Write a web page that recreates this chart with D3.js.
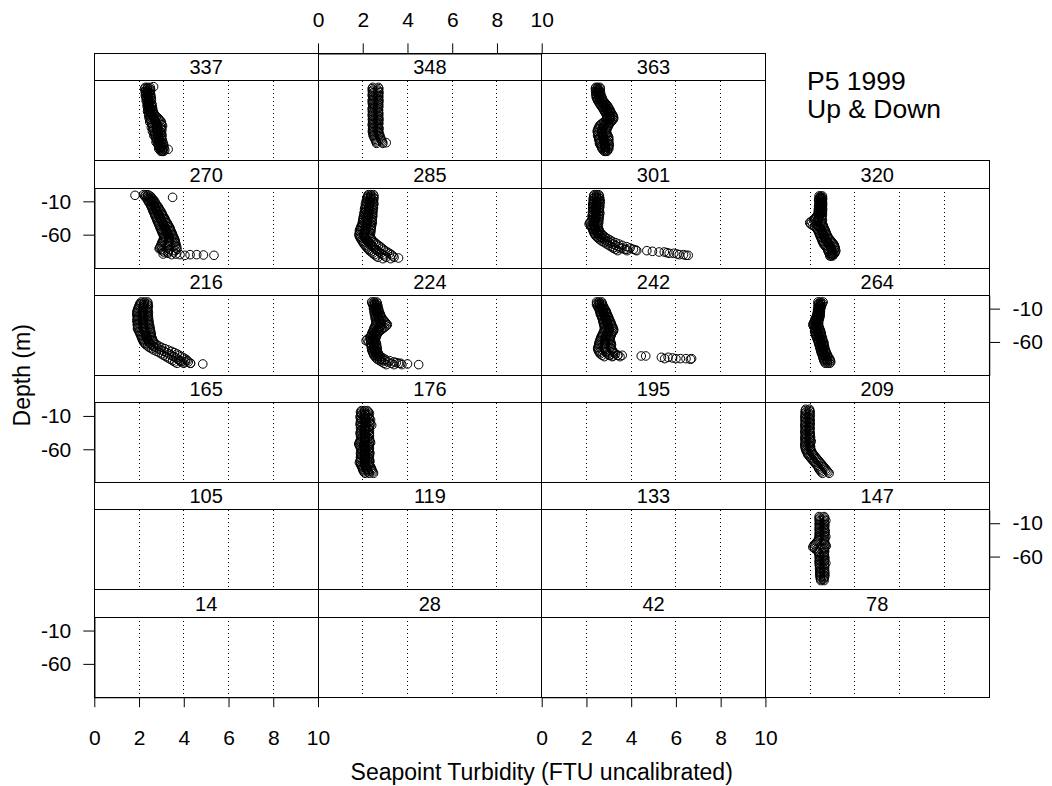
<!DOCTYPE html>
<html>
<head>
<meta charset="utf-8">
<script src="https://cdn.jsdelivr.net/npm/d3@7"></script>
<style>
  body { margin: 0; background: #fff; }
  svg { display: block; }
  text { font-family: "Liberation Sans", Arial, Helvetica, sans-serif; fill: #000; }
</style>
</head>
<body>
<svg id="chart" width="1052" height="786"></svg>
<script>
// Stations, filled left-to-right from the bottom row upward
const stations = ["14","28","42","78","105","119","133","147","165","176","195","209",
                  "216","224","242","264","270","285","301","320","337","348","363"];
// Depth levels (m) shared by the cast arrays below
const depthLevels = [0,-2,-4,-6,-8,-10,-12,-14,-16,-18,-20,-22,-24,-26,-28,-30,-32,-34,-36,
  -38,-40,-42,-44,-46,-48,-50,-52,-54,-56,-58,-60,-62,-64,-66,-68,-70,-72,-74,-76,
  -78,-80,-82,-84,-86,-88,-90,-92,-94,-96];
const xTickValues = [0,2,4,6,8,10];
const yTickValues = [-10,-60];
const gridValues = [2,4,6,8];
const titleLines = ["P5 1999", "Up & Down"];

// Seapoint turbidity (FTU) per station: down cast, a second pass, up cast, loose points
const down337 = [2.28, 2.25,2.3,2.27,2.3,2.32,2.28,2.3,2.33, 2.35,2.32,2.36,2.4,2.38,2.36,2.4,2.42,2.4,2.38,
  2.42,2.45,2.43,2.48,2.45,2.5,2.52,2.48,2.55,2.58, 2.6,2.55,2.62,2.65,2.6,2.68,2.7,2.66,2.72,2.75,
  2.78,2.8,2.76,2.82,2.85,2.88,2.9,2.88,2.95,2.98];
const mid337 = [2.38, 2.36,2.4,2.38,2.37,2.4,2.42,2.39,2.42, 2.43,2.42,2.44,2.46,2.45,2.44,2.48,2.47,2.5,2.48,
  2.52,2.55,2.58,2.62,2.65,2.7,2.72,2.75,2.78,2.8, 2.82,2.78,2.8,2.84,2.8,2.85,2.83,2.86,2.87,2.86,
  2.9,2.92,2.88,2.95,2.97,2.96,3.0,2.98,3.05,3.04];
const up337 = [2.5, 2.48,2.52,2.5,2.47,2.5,2.53,2.5,2.55, 2.52,2.55,2.5,2.56,2.58,2.55,2.6,2.57,2.62,2.6,
  2.65,2.68,2.72,2.78,2.85,2.9,2.95,3.0,2.98,3.02, 3.05,3.0,2.98,3.02,2.95,3.0,2.97,3.03,3.0,2.98,
  3.02,3.05,3.0,3.08,3.1,3.05,3.12,3.1,3.15,3.1];
const extra337 = [[2.65,1],[3.3,-93]];

const down348 = [2.45, 2.42,2.45,2.43,2.46,2.44,2.42,2.45,2.47, 2.44,2.42,2.46,2.43,2.45,2.47,2.44,2.42,2.45,2.43,
  2.46,2.44,2.42,2.45,2.47,2.43,2.45,2.44,2.46,2.42, 2.45,2.47,2.44,2.46,2.43,2.45,2.48,2.46,2.5,2.52,
  2.55,2.58,2.6,2.62];
const up348 = [2.7, 2.72,2.68,2.7,2.73,2.69,2.7,2.72,2.68, 2.7,2.73,2.69,2.71,2.68,2.72,2.7,2.67,2.71,2.69,
  2.7,2.72,2.68,2.71,2.69,2.73,2.7,2.68,2.72,2.7, 2.69,2.71,2.73,2.7,2.68,2.72,2.75,2.73,2.78,2.8,
  2.82,2.85,2.88,2.9];
const extra348 = [[3.05,-83]];

const down363 = [2.42, 2.4,2.43,2.41,2.44,2.42,2.45,2.43,2.46, 2.48,2.5,2.55,2.58,2.62,2.66,2.7,2.74,2.78,2.8,
  2.85,2.88,2.9,2.92,2.93,2.9,2.85,2.78,2.7,2.62, 2.58,2.55,2.52,2.5,2.48,2.5,2.52,2.5,2.53,2.55,
  2.55,2.58,2.6,2.58,2.62,2.65,2.68,2.7,2.75,2.8];
const mid363 = [2.5, 2.5,2.52,2.5,2.53,2.52,2.55,2.56,2.58, 2.6,2.62,2.67,2.72,2.76,2.8,2.84,2.88,2.92,2.94,
  2.98,3.02,3.05,3.06,3.08,3.05,3.0,2.95,2.88,2.8, 2.78,2.75,2.72,2.7,2.68,2.7,2.72,2.72,2.75,2.77,
  2.77,2.8,2.78,2.8,2.82,2.83,2.83,2.85,2.85,2.86];
const up363 = [2.6, 2.62,2.58,2.6,2.63,2.6,2.65,2.68,2.7, 2.72,2.75,2.8,2.85,2.9,2.95,2.98,3.02,3.05,3.08,
  3.1,3.15,3.18,3.2,3.22,3.2,3.15,3.1,3.05,3.0, 2.98,2.95,2.92,2.9,2.88,2.9,2.92,2.95,2.98,3.0,
  2.98,3.0,2.97,3.0,3.02,3.0,2.98,3.0,2.95,2.92];
const extra363 = [];

const down270 = [2.2, 2.25,2.3,2.35,2.38,2.42,2.45,2.5,2.52, 2.55,2.58,2.6,2.62,2.65,2.68,2.7,2.72,2.75,2.78,
  2.8,2.82,2.85,2.88,2.9,2.92,2.95,2.98,3.0,3.02, 3.05,3.08,3.1,3.12,3.1,3.08,3.05,3.02,3.0,2.98,
  2.95,2.92,3.0,3.05,3.1];
const mid270 = [2.3, 2.38,2.42,2.48,2.52,2.56,2.58,2.63,2.66, 2.7,2.73,2.76,2.78,2.82,2.85,2.88,2.9,2.94,2.96,
  3.0,3.02,3.05,3.08,3.1,3.14,3.16,3.2,3.22,3.24, 3.26,3.3,3.32,3.34,3.35,3.35,3.34,3.32,3.33,3.3,
  3.3,3.25,3.35,3.32,3.3];
const up270 = [2.4, 2.5,2.55,2.6,2.65,2.7,2.72,2.76,2.8, 2.85,2.88,2.92,2.95,3.0,3.02,3.05,3.08,3.12,3.15,
  3.18,3.2,3.25,3.28,3.3,3.35,3.38,3.4,3.42,3.45, 3.48,3.5,3.52,3.55,3.58,3.6,3.62,3.6,3.65,3.62,
  3.68,3.65,3.7,3.62,3.55];
const extra270 = [[1.82,-1],[3.5,-4],[2.9,-81],[3.08,-89],[3.3,-88],[3.46,-90],[3.65,-89],[3.83,-90],
  [4.05,-91],[4.28,-90],[4.58,-90],[4.88,-90.5],[5.35,-91]];

const down285 = [2.25, 2.22,2.2,2.18,2.2,2.15,2.18,2.12,2.15, 2.12,2.1,2.08,2.12,2.1,2.05,2.08,2.05,2.02,2.05,
  2.0,2.02,1.98,2.0,1.95,1.92,1.9,1.88,1.85,1.87, 1.85,1.83,1.85,1.88,1.9,1.95,1.98,2.02,2.05,2.1,
  2.15,2.2,2.25,2.3,2.38,2.45,2.52,2.6,2.68];
const mid285 = [2.36, 2.36,2.34,2.35,2.32,2.3,2.32,2.3,2.31, 2.28,2.29,2.26,2.28,2.26,2.25,2.24,2.25,2.22,2.22,
  2.2,2.21,2.2,2.18,2.17,2.14,2.13,2.12,2.1,2.1, 2.08,2.05,2.07,2.1,2.14,2.18,2.22,2.28,2.34,2.4,
  2.45,2.52,2.58,2.65,2.74,2.82,2.9,2.98,3.05];
const up285 = [2.48, 2.5,2.47,2.5,2.45,2.48,2.46,2.5,2.47, 2.45,2.48,2.44,2.46,2.43,2.45,2.42,2.45,2.43,2.4,
  2.42,2.4,2.43,2.38,2.4,2.36,2.38,2.35,2.37,2.33, 2.35,2.3,2.32,2.35,2.38,2.42,2.48,2.55,2.62,2.7,
  2.78,2.85,2.92,3.0,3.1,3.2,3.28,3.35,3.4];
const extra285 = [[3.6,-95],[3.25,-96],[2.9,-96]];

const down301 = [2.35, 2.32,2.35,2.3,2.33,2.3,2.32,2.28,2.3, 2.3,2.28,2.32,2.3,2.27,2.3,2.28,2.25,2.28,2.3,
  2.25,2.2,2.15,2.12,2.18,2.22,2.25,2.28,2.3,2.32, 2.35,2.38,2.42,2.48,2.55,2.62,2.7,2.8,2.9,3.0,
  3.1,3.2,3.3,3.4];
const mid301 = [2.45, 2.45,2.44,2.46,2.45,2.46,2.45,2.44,2.43, 2.45,2.42,2.43,2.44,2.41,2.45,2.42,2.41,2.4,2.43,
  2.4,2.36,2.33,2.3,2.34,2.36,2.38,2.4,2.44,2.46, 2.5,2.54,2.6,2.66,2.75,2.84,2.92,3.05,3.18,3.3,
  3.45,3.58,3.7,3.82];
const up301 = [2.55, 2.58,2.55,2.6,2.57,2.62,2.58,2.6,2.56, 2.6,2.57,2.55,2.58,2.56,2.6,2.55,2.58,2.54,2.56,
  2.55,2.52,2.55,2.5,2.53,2.5,2.52,2.55,2.58,2.6, 2.65,2.7,2.78,2.85,2.95,3.05,3.15,3.3,3.45,3.6,
  3.8,3.95,4.1,4.25];
const extra301 = [[3.2,-80],[3.5,-81],[3.8,-82],[4.2,-83],[4.7,-84],[4.95,-85],[5.25,-86],[5.48,-86],
  [5.6,-87],[5.7,-88],[5.9,-88],[6.05,-89],[6.15,-90],[6.34,-90],[6.45,-91],[6.55,-91]];

const down320 = [null, 2.4,2.42,2.4,2.38,2.4,2.42,2.39,2.41, 2.38,2.4,2.37,2.39,2.36,2.38,2.35,2.3,2.25,2.2,
  2.15,2.05,1.98,2.02,2.1,2.2,2.28,2.32,2.35,2.38, 2.4,2.42,2.45,2.48,2.5,2.52,2.55,2.58,2.6,2.65,
  2.7,2.75,2.78,2.8,2.82,2.85,2.9,2.88];
const mid320 = [null, 2.47,2.48,2.48,2.46,2.47,2.47,2.48,2.47, 2.46,2.47,2.46,2.47,2.45,2.45,2.45,2.42,2.38,2.36,
  2.35,2.28,2.24,2.28,2.34,2.4,2.45,2.48,2.52,2.54, 2.56,2.58,2.62,2.64,2.68,2.71,2.75,2.79,2.82,2.86,
  2.9,2.93,2.94,2.97,2.97,2.98,2.97,2.94];
const up320 = [null, 2.55,2.53,2.56,2.54,2.55,2.52,2.56,2.54, 2.55,2.53,2.56,2.54,2.55,2.52,2.55,2.53,2.5,2.52,
  2.55,2.52,2.5,2.55,2.58,2.6,2.62,2.65,2.68,2.7, 2.72,2.75,2.78,2.8,2.85,2.9,2.95,3.0,3.05,3.08,
  3.1,3.12,3.1,3.15,3.12,3.1,3.05,3.0];
const extra320 = [];

const down216 = [2.1, 2.05,2.02,2.0,1.98,1.95,1.93,1.92,1.9, 1.92,1.9,1.93,1.95,1.92,1.9,1.93,1.95,1.92,1.94,
  1.95,1.93,1.97,2.0,2.02,2.05,2.08,2.1,2.12,2.15, 2.18,2.2,2.25,2.3,2.38,2.45,2.55,2.65,2.78,2.9,
  3.0,3.1,3.2,3.3,3.4,3.5,3.6,3.7];
const mid216 = [2.24, 2.22,2.2,2.21,2.19,2.16,2.17,2.15,2.16, 2.16,2.14,2.17,2.18,2.17,2.15,2.19,2.18,2.19,2.21,
  2.2,2.22,2.23,2.26,2.26,2.3,2.3,2.33,2.35,2.38, 2.4,2.43,2.48,2.54,2.63,2.72,2.85,2.98,3.12,3.24,
  3.35,3.45,3.55,3.65,3.75,3.82,3.9,4.0];
const up216 = [2.38, 2.4,2.38,2.42,2.4,2.37,2.4,2.38,2.42, 2.4,2.38,2.42,2.4,2.43,2.4,2.45,2.42,2.45,2.48,
  2.45,2.5,2.48,2.52,2.5,2.55,2.52,2.55,2.58,2.6, 2.62,2.65,2.7,2.78,2.88,3.0,3.15,3.3,3.45,3.58,
  3.7,3.8,3.9,4.0,4.1,4.15,4.2,4.3];
const extra216 = [[3.85,-89],[4.06,-90],[4.3,-92],[4.85,-93]];

const down224 = [2.4, 2.42,2.45,2.48,2.5,2.48,2.52,2.5,2.55, 2.52,2.55,2.58,2.55,2.6,2.58,2.62,2.6,2.58,2.55,
  2.52,2.5,2.48,2.45,2.42,2.4,2.38,2.35,2.3,2.2, 2.15,2.25,2.35,2.38,2.4,2.38,2.42,2.4,2.43,2.45,
  2.48,2.5,2.55,2.6,2.65,2.75,2.85,2.95,3.05];
const mid224 = [2.51, 2.54,2.53,2.58,2.57,2.59,2.62,2.6,2.65, 2.65,2.68,2.7,2.7,2.75,2.76,2.81,2.82,2.84,2.8,
  2.75,2.7,2.65,2.6,2.56,2.52,2.5,2.48,2.44,2.38, 2.35,2.42,2.48,2.5,2.5,2.5,2.54,2.51,2.54,2.57,
  2.59,2.62,2.68,2.75,2.82,2.98,3.12,3.28,3.4];
const up224 = [2.62, 2.65,2.62,2.68,2.65,2.7,2.72,2.7,2.75, 2.78,2.8,2.82,2.85,2.9,2.95,3.0,3.05,3.1,3.05,
  2.98,2.9,2.82,2.75,2.7,2.65,2.62,2.6,2.58,2.55, 2.55,2.58,2.6,2.62,2.6,2.63,2.65,2.62,2.65,2.68,
  2.7,2.75,2.8,2.9,3.0,3.2,3.4,3.6,3.75];
const extra224 = [[3.5,-91],[3.7,-92],[4.0,-93],[4.5,-94]];

const down242 = [2.45, 2.47,2.45,2.5,2.52,2.55,2.58,2.6,2.62, 2.62,2.65,2.68,2.7,2.72,2.74,2.75,2.76,2.78,2.8,
  2.8,2.82,2.8,2.78,2.75,2.72,2.7,2.66,2.64,2.62, 2.6,2.58,2.56,2.55,2.54,2.52,2.5,2.52,2.55,2.58,
  2.62,2.7,2.8];
const mid242 = [2.56, 2.58,2.58,2.62,2.65,2.68,2.72,2.74,2.76, 2.77,2.8,2.83,2.85,2.87,2.9,2.92,2.93,2.95,2.98,
  2.99,3.01,3.01,2.99,2.95,2.92,2.9,2.87,2.85,2.84, 2.82,2.83,2.83,2.84,2.82,2.8,2.81,2.84,2.87,2.89,
  2.96,3.05,3.15];
const up242 = [2.68, 2.7,2.72,2.75,2.78,2.8,2.85,2.88,2.9, 2.92,2.95,2.98,3.0,3.02,3.05,3.08,3.1,3.12,3.15,
  3.18,3.2,3.22,3.2,3.15,3.12,3.1,3.08,3.05,3.05, 3.05,3.08,3.1,3.12,3.1,3.08,3.12,3.15,3.18,3.2,
  3.3,3.4,3.5];
const extra242 = [[3.0,-80],[3.2,-81],[3.4,-80],[3.6,-80],[4.45,-81],[4.65,-81],[5.35,-83],[5.5,-85],
  [5.65,-83],[5.85,-84],[6.0,-85],[6.2,-85],[6.45,-85],[6.7,-85],[6.65,-86]];

const down264 = [2.35, 2.38,2.35,2.38,2.36,2.35,2.33,2.35,2.32, 2.32,2.3,2.28,2.25,2.22,2.2,2.18,2.15,2.12,2.15,
  2.18,2.2,2.22,2.2,2.22,2.25,2.25,2.28,2.3,2.32, 2.35,2.37,2.38,2.4,2.42,2.43,2.45,2.47,2.48,2.5,
  2.52,2.55,2.57,2.58,2.6,2.62,2.65,2.68];
const mid264 = [2.46, 2.46,2.44,2.44,2.42,2.41,2.39,2.4,2.38, 2.38,2.37,2.35,2.33,2.31,2.29,2.27,2.26,2.24,2.26,
  2.29,2.31,2.33,2.33,2.35,2.37,2.38,2.4,2.42,2.44, 2.46,2.48,2.5,2.5,2.52,2.54,2.54,2.57,2.59,2.61,
  2.63,2.66,2.68,2.71,2.74,2.76,2.78,2.78];
const up264 = [2.58, 2.55,2.52,2.5,2.48,2.47,2.45,2.46,2.45, 2.44,2.45,2.43,2.42,2.4,2.38,2.37,2.38,2.36,2.38,
  2.4,2.42,2.45,2.47,2.48,2.5,2.5,2.52,2.55,2.55, 2.57,2.6,2.62,2.6,2.63,2.65,2.62,2.68,2.7,2.72,
  2.75,2.78,2.8,2.85,2.88,2.9,2.92,2.88];
const extra264 = [];

const down176 = [null, 1.95,1.9,1.92,1.95,1.9,1.88,1.92,1.95, 1.9,1.92,1.88,1.9,1.93,1.9,1.95,1.92,1.9,1.88,
  1.92,1.9,1.95,1.93,1.9,1.88,1.85,1.82,1.85,1.88, 1.9,1.92,1.95,1.93,1.9,1.92,1.95,1.9,1.92,1.9,
  1.88,1.85,1.9,1.92,1.95,1.98,2.0,2.02,2.05,2.1];
const mid176 = [null, 2.08,2.07,2.1,2.1,2.06,2.08,2.11,2.15, 2.1,2.1,2.12,2.15,2.12,2.08,2.11,2.11,2.08,2.09,
  2.1,2.1,2.1,2.11,2.09,2.1,2.1,2.06,2.06,2.06, 2.1,2.1,2.1,2.11,2.11,2.1,2.12,2.08,2.1,2.1,
  2.1,2.08,2.09,2.11,2.15,2.18,2.2,2.22,2.25,2.29];
const up176 = [null, 2.2,2.25,2.3,2.25,2.22,2.28,2.3,2.35, 2.3,2.28,2.35,2.4,2.3,2.25,2.28,2.3,2.25,2.3,
  2.28,2.3,2.25,2.3,2.28,2.32,2.35,2.3,2.28,2.25, 2.3,2.28,2.25,2.3,2.32,2.28,2.3,2.25,2.28,2.3,
  2.32,2.3,2.28,2.3,2.35,2.38,2.4,2.42,2.45,2.48];
const extra176 = [];

const down209 = [1.8, 1.78,1.8,1.77,1.8,1.78,1.76,1.8,1.78, 1.77,1.8,1.78,1.76,1.79,1.77,1.8,1.78,1.76,1.78,
  1.8,1.77,1.79,1.76,1.78,1.8,1.77,1.78,1.76,1.78, 1.78,1.8,1.82,1.85,1.88,1.9,1.95,2.0,2.05,2.1,
  2.15,2.2,2.25,2.3,2.35,2.38,2.4,2.45,2.5,2.55];
const up209 = [1.97, 1.98,2.0,1.97,1.99,2.0,1.96,1.98,2.0, 1.97,1.99,2.0,1.98,1.96,2.0,1.98,1.97,1.99,2.0,
  1.98,2.0,2.02,1.98,2.0,2.05,2.0,1.98,2.0,2.02, 2.0,2.02,2.05,2.08,2.1,2.15,2.2,2.25,2.3,2.35,
  2.4,2.45,2.5,2.55,2.6,2.65,2.7,2.75,2.8,2.85];
const extra209 = [];

const down147 = [2.4, 2.42,2.4,2.43,2.41,2.42,2.4,2.43,2.42, 2.4,2.42,2.41,2.43,2.4,2.42,2.41,2.4,2.38,2.35,
  2.3,2.25,2.2,2.15,2.12,2.2,2.28,2.35,2.38,2.4, 2.42,2.4,2.43,2.41,2.42,2.4,2.43,2.41,2.42,2.44,
  2.42,2.45,2.43,2.44,2.45,2.43,2.46,2.45,2.47,2.48];
const up147 = [2.62, 2.65,2.62,2.7,2.64,2.62,2.66,2.63,2.65, 2.62,2.64,2.68,2.63,2.65,2.62,2.7,2.66,2.64,2.62,
  2.65,2.63,2.68,2.72,2.66,2.64,2.62,2.65,2.63,2.62, 2.64,2.62,2.66,2.63,2.65,2.62,2.7,2.64,2.63,2.65,
  2.62,2.64,2.65,2.63,2.66,2.64,2.65,2.62,2.6,2.62];
const extra147 = [];

// Lookup table: station -> casts on the depth levels, plus loose [turbidity, depth] points
const casts = {
  "337": [[down337, mid337, up337], extra337], "348": [[down348, up348], extra348],
  "363": [[down363, mid363, up363], extra363], "270": [[down270, mid270, up270], extra270],
  "285": [[down285, mid285, up285], extra285], "301": [[down301, mid301, up301], extra301],
  "320": [[down320, mid320, up320], extra320], "216": [[down216, mid216, up216], extra216],
  "224": [[down224, mid224, up224], extra224], "242": [[down242, mid242, up242], extra242],
  "264": [[down264, mid264, up264], extra264], "176": [[down176, mid176, up176], extra176],
  "209": [[down209, up209], extra209], "147": [[down147, up147], extra147]
};

// ---- layout ----
const left0 = 94.3, panelW = 223.7;
const top0 = 53.4, rowPitch = 107.3, stripH = 27.3, panelH = 80;
const nCols = 4, nRows = 6;
const tickFont = 21, stripFont = 20;

const svg = d3.select("#chart");
const x = d3.scaleLinear().domain([0, 10]).range([0, panelW]);
const y = d3.scaleLinear().domain([-110, 10]).range([panelH, 0]);
const fmt = d => String(d);   // plain hyphen for negatives

function cellPos(i) {
  const col = i % nCols;
  const rowTop = nRows - 1 - Math.floor(i / nCols);
  return { col, row: rowTop, x0: left0 + col * panelW, y0: top0 + rowTop * rowPitch };
}

svg.append("defs").append("clipPath").attr("id", "panelClip")
  .append("rect").attr("x", 0).attr("y", 0).attr("width", panelW).attr("height", panelH);

stations.forEach((st, i) => {
  const p = cellPos(i);
  const g = svg.append("g").attr("transform", `translate(${p.x0},${p.y0})`);

  // strip
  g.append("rect").attr("x", 0).attr("y", 0).attr("width", panelW).attr("height", stripH)
    .attr("fill", "#fff").attr("stroke", "#000").attr("stroke-width", 1)
    .attr("shape-rendering", "crispEdges");
  g.append("text").attr("x", panelW / 2).attr("y", stripH / 2).attr("dy", "0.36em")
    .attr("text-anchor", "middle").style("font-size", stripFont + "px").text(st);

  const pg = g.append("g").attr("transform", `translate(0,${stripH})`);
  pg.append("rect").attr("width", panelW).attr("height", panelH)
    .attr("fill", "#fff").attr("stroke", "#000").attr("stroke-width", 1)
    .attr("shape-rendering", "crispEdges");

  // dotted reference lines
  pg.selectAll("line.grid").data(gridValues).join("line")
    .attr("class", "grid")
    .attr("x1", d => x(d)).attr("x2", d => x(d))
    .attr("y1", 0).attr("y2", panelH)
    .attr("stroke", "#000").attr("stroke-width", 1).attr("stroke-dasharray", "1.2,2.8")
    .attr("shape-rendering", "crispEdges");

  // profile points
  const c = casts[st];
  if (c) {
    const pts = [];
    c[0].forEach(arr => arr.forEach((v, k) => { if (v != null) pts.push([v, depthLevels[k]]); }));
    c[1].forEach(d => pts.push(d));
    pg.append("g").attr("clip-path", "url(#panelClip)")
      .selectAll("circle").data(pts).join("circle")
      .attr("cx", d => x(d[0])).attr("cy", d => y(d[1])).attr("r", 4.3)
      .attr("fill", "none").attr("stroke", "#000").attr("stroke-width", 1);
  }

  // axes on alternating sides
  const rowFromBottom = Math.floor(i / nCols);
  if (p.col === 0 && rowFromBottom % 2 === 0) {
    pg.append("g").call(d3.axisLeft(y).tickValues(yTickValues).tickFormat(fmt)
      .tickSize(11).tickSizeOuter(0).tickPadding(12)).call(styleAxis);
  }
  if (p.col === nCols - 1 && rowFromBottom % 2 === 1) {
    pg.append("g").attr("transform", `translate(${panelW},0)`)
      .call(d3.axisRight(y).tickValues(yTickValues).tickFormat(fmt)
        .tickSize(11).tickSizeOuter(0).tickPadding(12.5)).call(styleAxis);
  }
  if (rowFromBottom === 0 && p.col % 2 === 0) {
    pg.append("g").attr("transform", `translate(0,${panelH})`)
      .call(d3.axisBottom(x).tickValues(xTickValues).tickFormat(fmt)
        .tickSize(10).tickSizeOuter(0).tickPadding(23)).call(styleAxis);
  }
});

// top axis above the second column of the top row
{
  const p = cellPos(stations.indexOf("348"));
  svg.append("g").attr("transform", `translate(${p.x0},${p.y0})`)
    .call(d3.axisTop(x).tickValues(xTickValues).tickFormat(fmt)
      .tickSize(10).tickSizeOuter(0).tickPadding(16.5)).call(styleAxis);
}

function styleAxis(sel) {
  sel.select(".domain").attr("stroke", "#000").attr("stroke-width", 1.3);
  sel.selectAll(".tick line").attr("stroke", "#000").attr("stroke-width", 1);
  sel.selectAll(".tick text").style("font-size", tickFont + "px")
    .style("font-family", '"Liberation Sans", Arial, Helvetica, sans-serif').attr("fill", "#000");
}

// axis titles
svg.append("text").attr("x", left0 + 2 * panelW).attr("y", 780)
  .attr("text-anchor", "middle").style("font-size", "23px")
  .text("Seapoint Turbidity (FTU uncalibrated)");
svg.append("text")
  .attr("transform", `translate(30,${top0 + (nRows * rowPitch) / 2}) rotate(-90)`)
  .attr("text-anchor", "middle").style("font-size", "23px")
  .text("Depth (m)");

// title block in the empty top-right cell
svg.selectAll("text.title").data(titleLines).join("text")
  .attr("class", "title")
  .attr("x", 807).attr("y", (d, k) => 90 + k * 28.3)
  .style("font-size", "26.5px").text(d => d);
</script>
</body>
</html>
